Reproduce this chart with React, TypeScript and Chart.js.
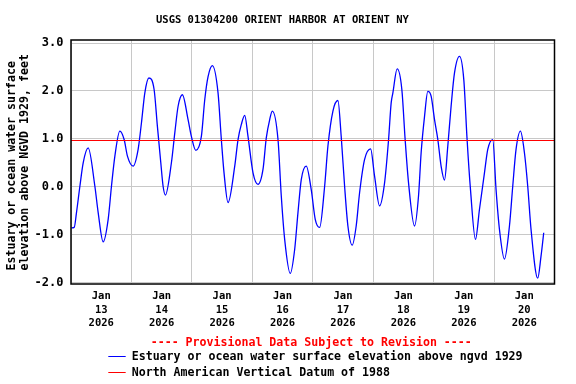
import React, { useEffect, useRef } from "react";
import { Chart, registerables } from "chart.js";

Chart.register(...registerables);

// Hours since Jan 13 2026 00:00 and water level (ft above NGVD 1929)
const hoursSinceStart = [
  0.2, 1.27, 2.18, 3.53, 4.84, 6.82, 9.48, 10.79, 12.77, 14.76, 16.07, 17.42, 19.4, 21.1, 22.41,
  24.67, 26.66, 27.97, 29.32, 30.9, 33.0, 34.31, 35.66, 36.57, 37.49, 39.87, 41.22, 42.53, 44.23,
  46.49, 47.8, 49.55, 51.77, 53.12, 54.43, 56.13, 58.39, 59.7, 60.77, 62.36, 65.02, 66.33, 67.64,
  68.98, 70.29, 72.28, 74.26, 76.24, 77.55, 78.9, 79.93, 82.2, 83.5, 84.85, 87.07, 88.82, 90.13,
  91.44, 93.42, 95.4, 96.99, 98.74, 100.72, 102.03, 104.01, 105.99, 107.3, 108.65, 109.96, 111.67,
  113.25, 114.6, 116.59, 118.97, 120.55, 122.54, 124.52, 126.11, 127.14, 127.82, 129.52, 131.38,
  132.69, 134.04, 136.42, 138.01, 139.04, 140.39, 141.7, 143.01, 144.36, 145.67, 146.97, 148.32,
  149.63, 150.94, 152.29, 154.27, 155.98, 157.29, 158.64, 160.62, 162.21, 164.19, 165.5, 167.48,
  168.79, 170.14, 172.12, 174.11, 175.42, 176.73, 178.47, 180.06, 181.37, 182.68, 185.34, 186.65,
  187.72,
];
const elevationFt = [
  -0.86, -0.85, -0.54, 0.01, 0.5, 0.81, 0.01, -0.54, -1.15, -0.68, 0.01, 0.64, 1.16, 0.985, 0.64,
  0.43, 0.78, 1.33, 1.96, 2.27, 2.03, 1.26, 0.5, 0.01, -0.175, 0.5, 1.125, 1.68, 1.92,
  1.4, 1.05, 0.76, 1.05, 1.82, 2.3, 2.53, 1.96, 0.985, 0.29, -0.33, 0.43, 0.985, 1.3,
  1.49, 1.05, 0.29, 0.05, 0.36, 1.02, 1.4, 1.58, 0.985, -0.19, -1.1, -1.81, -1.31, -0.54,
  0.15, 0.43, -0.06, -0.68, -0.85, 0.01, 0.85, 1.58, 1.8, 1.05, 0.01, -0.82, -1.22,
  -0.82, -0.125, 0.57, 0.79, 0.22, -0.4, 0.08, 0.985, 1.75, 1.96, 2.46, 2.03,
  0.985, 0.08, -0.82, -0.19, 0.71, 1.47, 1.99, 1.89, 1.4, 0.985, 0.43, 0.14,
  0.85, 1.68, 2.375, 2.72, 2.235, 0.985, -0.06, -1.1, -0.47, 0.29, 0.78, 0.985,
  -0.06, -0.89, -1.51, -0.82, 0.01, 0.78, 1.16, 0.71, 0.01, -0.89, -1.91, -1.45,
  -0.96,
];
const navd88Ft = 0.965;
const dayLabels = ["13", "14", "15", "16", "17", "18", "19", "20"];
const yTickValues = [-2, -1, 0, 1, 2, 3];
const xTickHours = [0, 12, 24, 36, 48, 60, 72, 84, 96, 108, 120, 132, 144, 156, 168, 180, 192];

const TITLE = "USGS 01304200 ORIENT HARBOR AT ORIENT NY";
const Y_TITLE_1 = "Estuary or ocean water surface";
const Y_TITLE_2 = "elevation above NGVD 1929, feet";
const PROVISIONAL = "---- Provisional Data Subject to Revision ----";
const SERIES_NAME = "Estuary or ocean water surface elevation above ngvd 1929";
const DATUM_NAME = "North American Vertical Datum of 1988";

const MONO = '"DejaVu Sans Mono", "Liberation Mono", monospace';

const decor = {
  id: "usgsDecor",
  afterDraw(chart: any) {
    const ctx = chart.ctx as CanvasRenderingContext2D;
    const a = chart.chartArea;
    ctx.save();
    ctx.strokeStyle = "#000";
    ctx.lineWidth = 1.5;
    ctx.strokeRect(a.left, a.top, a.right - a.left, a.bottom - a.top);

    ctx.fillStyle = "#000";
    ctx.textBaseline = "middle";
    ctx.textAlign = "left";
    ctx.font = `bold 10.5px ${MONO}`;
    ctx.fillText(TITLE, 156, 20);

    ctx.save();
    ctx.font = `bold 11.6px ${MONO}`;
    ctx.translate(0, 270.5);
    ctx.rotate(-Math.PI / 2);
    ctx.fillText(Y_TITLE_1, 0, 11.7);
    ctx.fillText(Y_TITLE_2, 0, 25);
    ctx.restore();

    ctx.font = `bold 11.6px ${MONO}`;
    ctx.fillStyle = "#ff0000";
    ctx.fillText(PROVISIONAL, 150.7, 343.3);

    ctx.lineWidth = 1;
    ctx.strokeStyle = "#0000ff";
    ctx.beginPath();
    ctx.moveTo(108.3, 356.5);
    ctx.lineTo(125.7, 356.5);
    ctx.stroke();
    ctx.strokeStyle = "#ff0000";
    ctx.beginPath();
    ctx.moveTo(108.3, 372.5);
    ctx.lineTo(125.7, 372.5);
    ctx.stroke();

    ctx.fillStyle = "#000";
    ctx.fillText(SERIES_NAME, 131.7, 356.7);
    ctx.fillText(DATUM_NAME, 131.7, 373);
    ctx.restore();
  },
};

export default function App() {
  const ref = useRef<HTMLCanvasElement | null>(null);
  useEffect(() => {
    if (!ref.current) return;
    const series = hoursSinceStart.map((h, i) => ({ x: h, y: elevationFt[i] }));
    const datum = [
      { x: 0, y: navd88Ft },
      { x: 192, y: navd88Ft },
    ];
    const chart = new Chart(ref.current, {
      type: "line",
      data: {
        datasets: [
          {
            label: DATUM_NAME,
            data: datum,
            borderColor: "#ff0000",
            borderWidth: 1.2,
            pointRadius: 0,
            order: 0,
          },
          {
            label: SERIES_NAME,
            data: series,
            borderColor: "#0000ff",
            borderWidth: 1.3,
            pointRadius: 0,
            cubicInterpolationMode: "monotone",
            order: 1,
          },
        ],
      },
      options: {
        responsive: false,
        animation: false,
        devicePixelRatio: 1,
        layout: { padding: { left: 0, top: 40, right: 21.5, bottom: 0 } },
        plugins: { legend: { display: false }, title: { display: false }, tooltip: { enabled: false } },
        scales: {
          x: {
            type: "linear",
            min: 0,
            max: 192,
            afterBuildTicks: (s: any) => {
              s.ticks = xTickHours.map((v) => ({ value: v }));
            },
            afterFit: (s: any) => {
              s.height = 100;
            },
            grid: {
              color: (c: any) => (c.tick && c.tick.value % 24 === 0 ? "#c8c8c8" : "rgba(0,0,0,0)"),
              lineWidth: 1,
              drawTicks: false,
            },
            border: { display: false },
            ticks: {
              autoSkip: false,
              maxRotation: 0,
              padding: 6,
              color: "#000",
              font: { family: MONO, weight: "bold", size: 10.5, lineHeight: 1.27 },
              callback: (v: any) => {
                const n = Number(v);
                if (n % 24 !== 12) return "";
                return ["Jan", dayLabels[(n - 12) / 24], "2026"];
              },
            },
          },
          y: {
            type: "linear",
            min: -2.031,
            max: 3.0631,
            afterBuildTicks: (s: any) => {
              s.ticks = yTickValues.map((v) => ({ value: v }));
            },
            afterFit: (s: any) => {
              s.width = 71;
            },
            grid: { color: "#c8c8c8", lineWidth: 1, drawTicks: false },
            border: { display: false },
            ticks: {
              padding: 7.5,
              color: "#000",
              font: { family: MONO, weight: "bold", size: 12 },
              callback: (v: any) => Number(v).toFixed(1),
            },
          },
        },
      },
      plugins: [decor],
    } as any);
    return () => chart.destroy();
  }, []);
  return (
    <div style={{ position: "absolute", left: 0, top: 0, width: 576, height: 384, background: "#fff" }}>
      <canvas ref={ref} width={576} height={384} />
    </div>
  );
}
